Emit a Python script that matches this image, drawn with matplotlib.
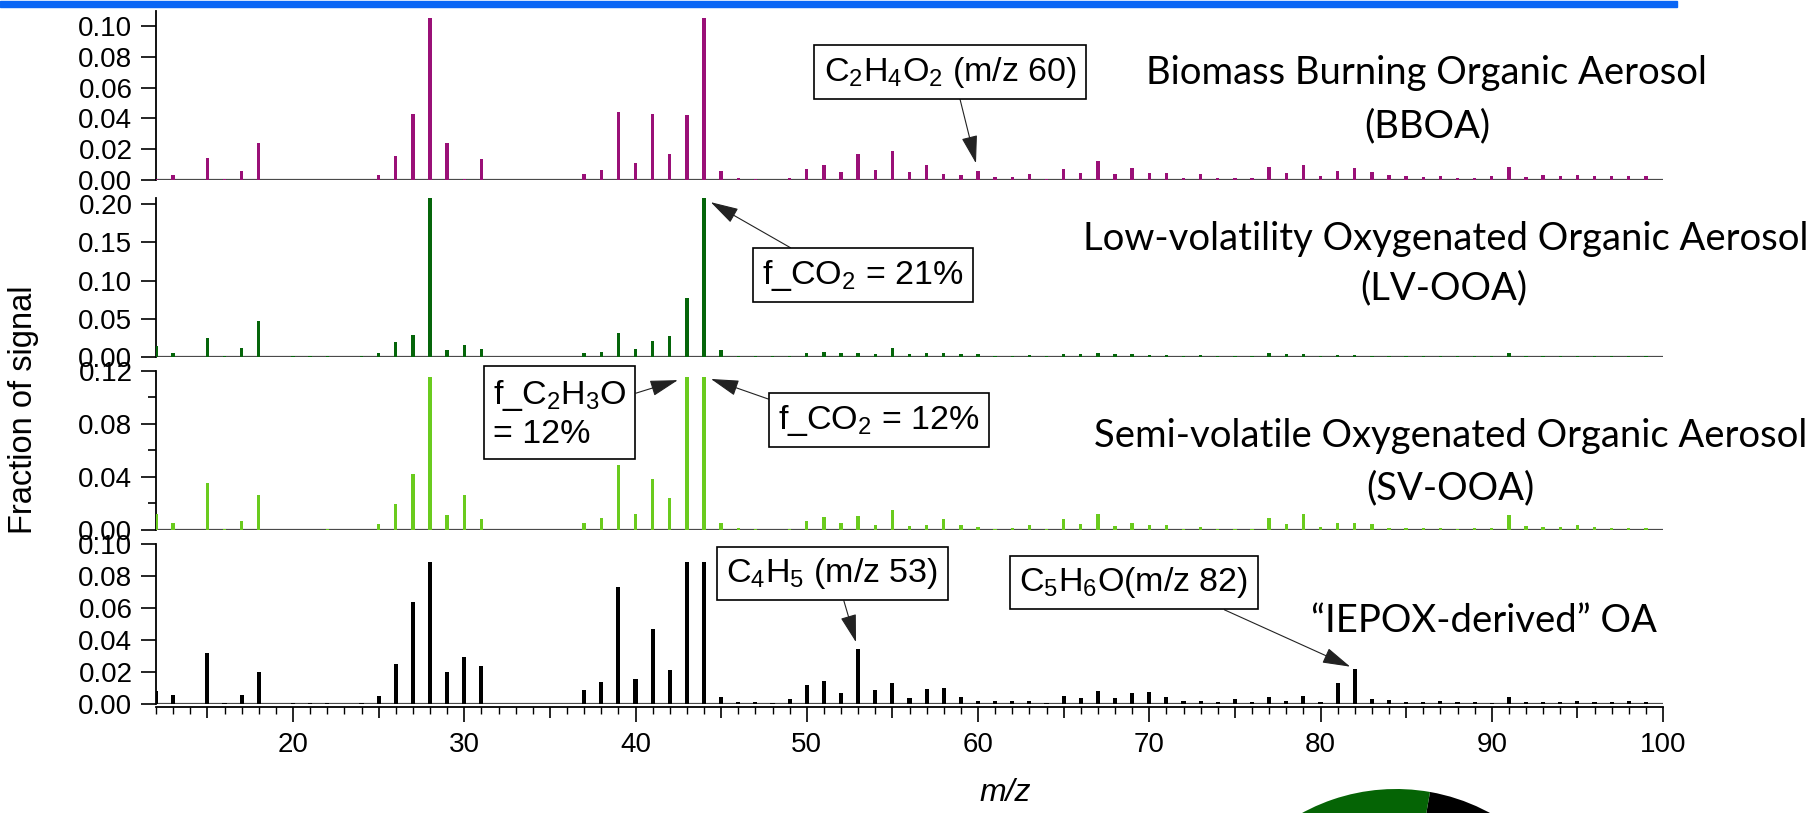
import numpy as np
import matplotlib
matplotlib.use("Agg")
import matplotlib.pyplot as plt
from matplotlib.patches import Rectangle
from matplotlib.ticker import FixedLocator, FuncFormatter

plt.rcParams['font.family'] = ['Liberation Sans', 'DejaVu Sans']
plt.rcParams['mathtext.fontset'] = 'custom'
plt.rcParams['mathtext.rm'] = 'Liberation Sans'
plt.rcParams['mathtext.it'] = 'Liberation Sans:italic'
plt.rcParams['mathtext.default'] = 'regular'

# ---------------- data ----------------
mz = list(range(12, 101))

bboa = [0.0005, 0.003, 0, 0.0145, 0.0005, 0.006, 0.024, 0, 0.0002, 0.0002,
        0.0002, 0, 0.0002, 0.003, 0.0155, 0.043, 0.105, 0.024, 0.0007, 0.0134,
        0, 0, 0, 0, 0.0002, 0.004, 0.0066, 0.044, 0.011, 0.043,
        0.0166, 0.042, 0.105, 0.0058, 0.001, 0.0005, 0.0003, 0.001, 0.0073, 0.0099,
        0.0054, 0.0168, 0.0065, 0.019, 0.005, 0.0095, 0.004, 0.003, 0.0056, 0.0017,
        0.0017, 0.0039, 0.0005, 0.0069, 0.0043, 0.0125, 0.004, 0.0078, 0.0045, 0.0048,
        0.001, 0.004, 0.001, 0.001, 0.001, 0.0084, 0.0045, 0.0095, 0.0024, 0.0058,
        0.0078, 0.0052, 0.003, 0.0024, 0.002, 0.0028, 0.0013, 0.0013, 0.0024, 0.0084,
        0.002, 0.003, 0.0024, 0.003, 0.0024, 0.0024, 0.0024, 0.0024, 0]

lvooa = [0.014, 0.005, 0, 0.025, 0.001, 0.012, 0.047, 0, 0.0003, 0.0003,
         0.0005, 0, 0.0003, 0.0044, 0.019, 0.029, 0.208, 0.0088, 0.0153, 0.010,
         0, 0, 0, 0, 0, 0.0044, 0.0066, 0.031, 0.010, 0.020,
         0.027, 0.077, 0.208, 0.0088, 0.001, 0.0005, 0.0003, 0.001, 0.0048, 0.006,
         0.0044, 0.005, 0.0035, 0.0114, 0.0035, 0.0044, 0.0044, 0.003, 0.003, 0.0013,
         0.0013, 0.002, 0.0005, 0.0035, 0.003, 0.005, 0.003, 0.0035, 0.002, 0.002,
         0.001, 0.0018, 0.0008, 0.0008, 0.0008, 0.0044, 0.003, 0.003, 0.0015, 0.002,
         0.0018, 0.0015, 0.0015, 0.0012, 0.0012, 0.0012, 0.001, 0.001, 0.0012, 0.0044,
         0.0012, 0.0015, 0.0012, 0.0015, 0.0012, 0.0012, 0.001, 0.001, 0]

svooa = [0.012, 0.0055, 0, 0.0357, 0.0005, 0.0065, 0.0264, 0, 0.0003, 0.0003,
         0.0005, 0, 0.0003, 0.0043, 0.0196, 0.042, 0.1156, 0.011, 0.0264, 0.0083,
         0, 0, 0, 0, 0, 0.0055, 0.0093, 0.049, 0.0118, 0.0384,
         0.0239, 0.115, 0.1156, 0.0055, 0.0018, 0.001, 0.0003, 0.001, 0.0068, 0.010,
         0.0055, 0.0108, 0.004, 0.015, 0.003, 0.0035, 0.0083, 0.0038, 0.002, 0.001,
         0.0013, 0.0035, 0.0005, 0.008, 0.0043, 0.012, 0.003, 0.0055, 0.0038, 0.0035,
         0.001, 0.002, 0.0008, 0.0008, 0.0008, 0.0088, 0.0045, 0.012, 0.0025, 0.0055,
         0.005, 0.0043, 0.0018, 0.0013, 0.0013, 0.0013, 0.001, 0.0013, 0.0018, 0.0113,
         0.003, 0.0025, 0.0025, 0.0038, 0.002, 0.0018, 0.0018, 0.0018, 0]

iepox = [0.0077, 0.0052, 0, 0.0317, 0.0005, 0.0052, 0.020, 0, 0.0002, 0.0003,
         0.0003, 0, 0.0002, 0.005, 0.0248, 0.0637, 0.0887, 0.0198, 0.0292, 0.0234,
         0, 0, 0, 0, 0, 0.0084, 0.0134, 0.0729, 0.0152, 0.0468,
         0.021, 0.089, 0.089, 0.004, 0.0008, 0.0008, 0.0003, 0.0027, 0.012, 0.014,
         0.0069, 0.034, 0.0086, 0.0131, 0.0035, 0.0094, 0.0098, 0.0044, 0.0015, 0.0015,
         0.0015, 0.002, 0.0005, 0.005, 0.0033, 0.0079, 0.0033, 0.0067, 0.0072, 0.0045,
         0.0015, 0.0015, 0.0013, 0.0031, 0.0008, 0.004, 0.0017, 0.0046, 0.001, 0.0131,
         0.0219, 0.0029, 0.0025, 0.0013, 0.0013, 0.002, 0.001, 0.001, 0.0006, 0.004,
         0.0008, 0.001, 0.0013, 0.002, 0.0013, 0.0013, 0.0015, 0.0013, 0]

for arr in (bboa, lvooa, svooa, iepox):
    assert len(arr) == len(mz)

factor_names = [["Biomass Burning Organic Aerosol", "(BBOA)"],
                ["Low-volatility Oxygenated Organic Aerosol", "(LV-OOA)"],
                ["Semi-volatile Oxygenated Organic Aerosol", "(SV-OOA)"],
                ["\u201cIEPOX-derived\u201d OA"]]

y_ticks = [[0, 0.02, 0.04, 0.06, 0.08, 0.10],
           [0, 0.05, 0.10, 0.15, 0.20],
           [0, 0.04, 0.08, 0.12],
           [0, 0.02, 0.04, 0.06, 0.08, 0.10]]
y_minor = [[], [], [0.02, 0.06, 0.10], []]
y_max = [0.1097, 0.208, 0.12, 0.10]

x_ticks = list(range(15, 101, 5))
x_labels = [20, 30, 40, 50, 60, 70, 80, 90, 100]

pie_labels = ["IEPOX-OA", "LV-OOA", "SV-OOA", "BBOA"]
pie_fracs = [0.18, 0.32, 0.30, 0.20]

# ---------------- figure ----------------
W, H = 1818, 813
fig = plt.figure(figsize=(W / 100, H / 100), dpi=100)

colors = ['#9a1077', '#05650a', '#6acb1e', '#000000']
bar_w = [0.2, 0.2, 0.2, 0.24]
panel_px = [(11, 180), (198.3, 356.7), (370.7, 530), (544, 703.7)]
series = [bboa, lvooa, svooa, iepox]
x0, x1 = 156, 1663

axes = []
for i in range(4):
    top, bot = panel_px[i]
    ax = fig.add_axes([x0 / W, 1 - bot / H, (x1 - x0) / W, (bot - top) / H])
    ax.patch.set_alpha(0)
    ax.bar(mz, series[i], width=bar_w[i], color=colors[i], linewidth=0, zorder=3)
    ax.axhline(0, color='#4a4a4a', lw=1.6, zorder=2)
    ax.set_xlim(12, 100)
    ax.set_ylim(0, y_max[i])
    ax.set_yticks(y_ticks[i])
    ax.set_yticks(y_minor[i], minor=True)
    ax.yaxis.set_major_formatter(FuncFormatter(lambda v, p: f"{v:.2f}"))
    ax.tick_params(axis='y', which='major', direction='out', length=11, width=1.2,
                   labelsize=20, pad=6)
    ax.tick_params(axis='y', which='minor', direction='out', length=6, width=1.2)
    for s in ('top', 'right'):
        ax.spines[s].set_visible(False)
    ax.spines['left'].set_linewidth(1.3)
    if i < 3:
        ax.spines['bottom'].set_visible(False)
        ax.set_xticks([])
    axes.append(ax)

ax4 = axes[3]
ax4.spines['bottom'].set_position(('outward', 2.2))
ax4.spines['bottom'].set_linewidth(1.3)
ax4.xaxis.set_major_locator(FixedLocator(x_ticks))
ax4.xaxis.set_minor_locator(FixedLocator(mz))
ax4.xaxis.set_major_formatter(FuncFormatter(lambda v, p: f"{int(v)}" if int(round(v)) in x_labels else ""))
ax4.tick_params(axis='x', which='major', direction='out', length=11, width=1.2,
                labelsize=20, pad=7)
ax4.tick_params(axis='x', which='minor', direction='out', length=5, width=1.0)
fig.canvas.draw()
for t, loc in zip(ax4.xaxis.get_major_ticks(), x_ticks):
    if loc % 10 != 0:
        t.tick1line.set_markersize(8)

# axis labels
fig.text(24 / W, 1 - 410 / H, "Fraction of signal", rotation=90, fontsize=23.5,
         ha='center', va='center')
fig.text(1005 / W, 1 - 793 / H, "m/z", fontsize=23, style='italic',
         ha='center', va='center')

# factor names
name_pos = [[(1427, 84), (1427, 137)],
            [(1446, 250), (1444, 299)],
            [(1451, 447), (1450, 499)],
            [(1484, 632)]]
for names, poss in zip(factor_names, name_pos):
    for s, (x, y) in zip(names, poss):
        fig.text(x / W, 1 - y / H, s, fontsize=27.5, family='Lato',
                 ha='center', va='baseline')

# annotations
box = dict(boxstyle='square,pad=0.27', fc='white', ec='black', lw=1.2)
def annot(ax, label, m, vals, center, relpos, shrink, **kw):
    ax.annotate(label, xy=(m, vals[mz.index(m)]), xycoords='data',
                xytext=(center[0], H - center[1]), textcoords='figure pixels',
                ha='center', va='center', fontsize=24.5, bbox=box, zorder=10,
                arrowprops=dict(arrowstyle='-|>,head_length=0.7,head_width=0.2',
                                mutation_scale=25, color='#222222', lw=0.8,
                                shrinkA=0, shrinkB=shrink, relpos=relpos),
                **kw)

annot(axes[0], "C$_2$H$_4$O$_2$ (m/z 60)", 60, bboa, (950, 72), (0.53, 0), 6)
annot(axes[1], "f_CO$_2$ = 21%", 44, lvooa, (863, 275), (0.225, 1), 5.6)
annot(axes[2], "f_C$_2$H$_3$O\n= 12%", 43, svooa, (559.5, 413.5), (1, 0.74), 6.8,
      multialignment='left', linespacing=1.25)
annot(axes[2], "f_CO$_2$ = 12%", 44, svooa, (879, 420), (0, 1), 5.3)
annot(axes[3], "C$_4$H$_5$ (m/z 53)", 53, iepox, (832.5, 573.5), (0.54, 0), 5.4)
annot(axes[3], "C$_5$H$_6$O(m/z 82)", 82, iepox, (1134, 582.5), (0.8, 0), 3.6)

# blue banner at top
fig.patches.append(Rectangle((0, 1 - 7.5 / H), 1677 / W, 6 / H, transform=fig.transFigure,
                             color='#0a66f5', zorder=0))

# partially visible pie at bottom right
R = 196
cx, cy = 1396, 985
pax = fig.add_axes([(cx - R) / W, (H - cy - R) / H, 2 * R / W, 2 * R / H])
pax.pie(pie_fracs, colors=['#000000', '#056405', '#6acb1e', '#9a1077'],
        startangle=80 - 360 * pie_fracs[0], counterclock=True,
        wedgeprops=dict(linewidth=0))
pax.set_xlim(-1, 1)
pax.set_ylim(-1, 1)
pax.set_aspect('auto')
pax.axis('off')

fig.savefig("out.png", dpi=100)
